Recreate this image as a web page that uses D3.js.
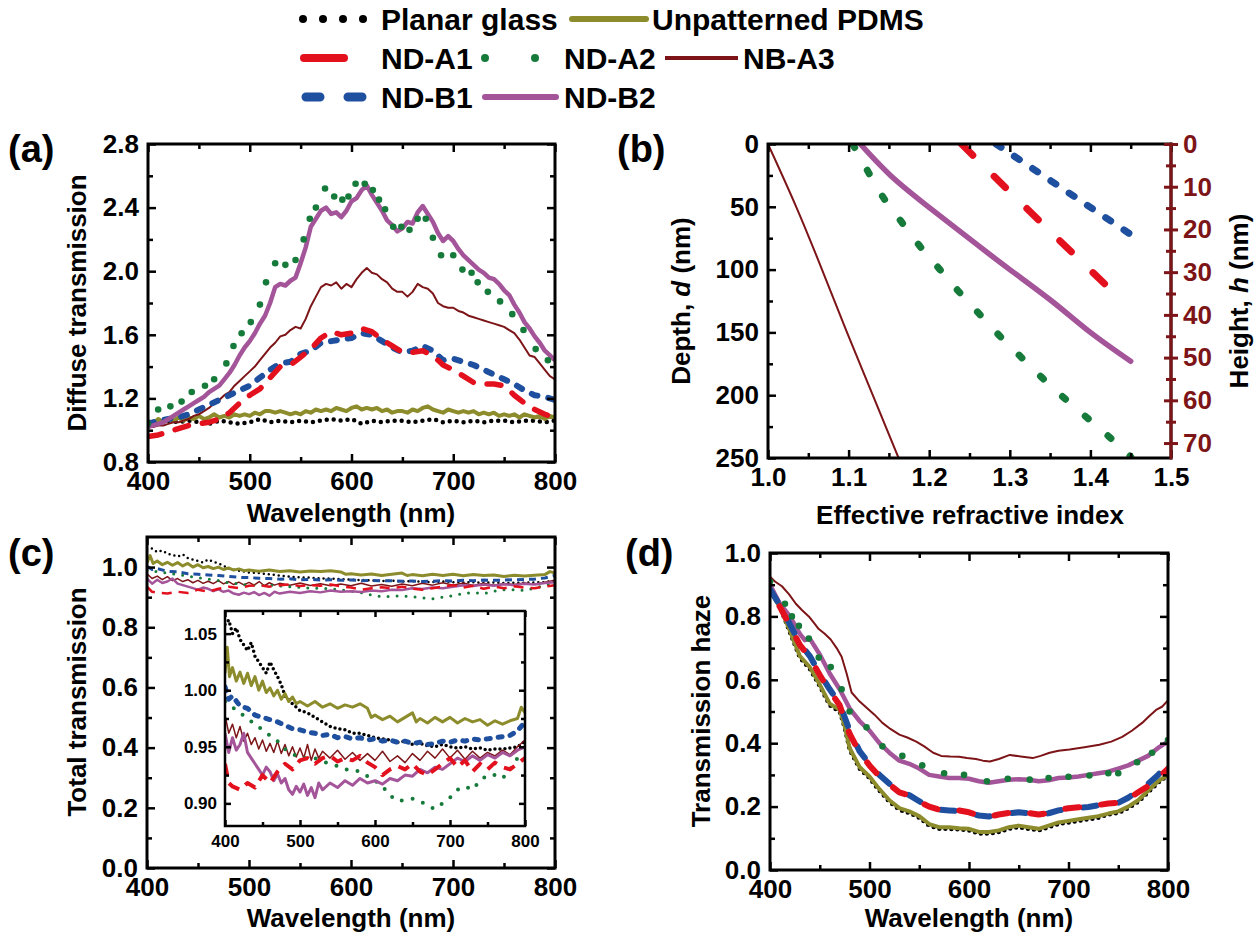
<!DOCTYPE html>
<html>
<head>
<meta charset="utf-8">
<script src="https://cdn.jsdelivr.net/npm/d3@7"></script>
<style>
  body { margin: 0; background: #fff; }
  svg text { font-family: "Liberation Sans", Arial, sans-serif; font-weight: bold; }
</style>
</head>
<body>
<svg id="fig" width="1260" height="934"></svg>
<script>
// ---- data: [x, y] pairs ----

// (a) diffuse transmission vs wavelength
var aPlanar = [[400,1.04],[410,1.05],[420,1.06],[430,1.05],[440,1.06],[450,1.05],[460,1.04],[470,1.06],[480,1.05],[490,1.04],[500,1.05],[510,1.07],[520,1.05],[530,1.06],[540,1.05],[550,1.06],[560,1.05],[570,1.06],[580,1.07],[590,1.06],[600,1.07],[610,1.04],[620,1.06],[630,1.05],[640,1.06],[650,1.06],[660,1.05],[670,1.06],[680,1.07],[690,1.05],[700,1.06],[710,1.05],[720,1.06],[730,1.05],[740,1.06],[750,1.06],[760,1.05],[770,1.06],[780,1.06],[790,1.05],[800,1.06]];
var aPdms = [[400,1.06],[405,1.04],[410,1.07],[415,1.05],[420,1.07],[425,1.06],[430,1.08],[435,1.06],[440,1.08],[445,1.07],[450,1.09],[455,1.07],[460,1.08],[465,1.10],[470,1.08],[475,1.09],[480,1.08],[485,1.10],[490,1.09],[495,1.10],[500,1.09],[505,1.11],[510,1.10],[515,1.12],[520,1.12],[525,1.11],[530,1.12],[535,1.11],[540,1.10],[545,1.11],[550,1.10],[555,1.12],[560,1.11],[565,1.13],[570,1.12],[575,1.13],[580,1.12],[585,1.14],[590,1.13],[595,1.12],[600,1.14],[605,1.15],[610,1.13],[615,1.14],[620,1.13],[625,1.14],[630,1.12],[635,1.13],[640,1.11],[645,1.12],[650,1.12],[655,1.11],[660,1.13],[665,1.12],[670,1.14],[675,1.15],[680,1.13],[685,1.12],[690,1.11],[695,1.13],[700,1.12],[705,1.11],[710,1.12],[715,1.11],[720,1.12],[725,1.10],[730,1.11],[735,1.10],[740,1.11],[745,1.09],[750,1.10],[755,1.09],[760,1.10],[765,1.08],[770,1.10],[775,1.09],[780,1.08],[785,1.09],[790,1.07],[795,1.09],[800,1.08]];
var aA1 = [[400,0.96],[410,0.97],[420,0.99],[430,1.01],[440,1.03],[450,1.04],[460,1.05],[470,1.07],[480,1.11],[490,1.17],[500,1.22],[510,1.26],[520,1.33],[530,1.40],[540,1.41],[550,1.46],[560,1.51],[570,1.58],[580,1.62],[590,1.60],[600,1.61],[610,1.64],[620,1.62],[630,1.57],[640,1.53],[650,1.49],[660,1.49],[670,1.50],[680,1.47],[690,1.41],[700,1.38],[710,1.34],[720,1.30],[730,1.29],[740,1.29],[750,1.28],[760,1.22],[770,1.17],[780,1.13],[790,1.10],[800,1.08]];
var aA2 = [[400,1.04],[410,1.13],[422,1.15],[433,1.18],[443,1.24],[456,1.28],[465,1.32],[477,1.42],[484,1.53],[492,1.61],[501,1.68],[510,1.79],[516,1.93],[525,2.05],[535,2.04],[545,2.07],[553,2.20],[559,2.33],[565,2.40],[574,2.52],[583,2.47],[591,2.45],[597,2.47],[604,2.55],[613,2.55],[621,2.51],[627,2.45],[633,2.39],[641,2.28],[649,2.28],[657,2.26],[665,2.33],[673,2.33],[680,2.21],[688,2.10],[700,2.10],[709,2.01],[718,1.99],[724,1.93],[734,1.87],[746,1.81],[758,1.73],[769,1.63],[781,1.51],[793,1.44]];
var aA3 = [[400,1.02],[405,1.02],[410,1.03],[415,1.03],[420,1.04],[425,1.05],[430,1.05],[435,1.06],[440,1.07],[445,1.09],[450,1.10],[455,1.12],[460,1.14],[465,1.17],[470,1.19],[475,1.22],[480,1.24],[485,1.28],[490,1.31],[495,1.34],[500,1.37],[505,1.40],[510,1.44],[515,1.48],[520,1.52],[525,1.55],[530,1.59],[535,1.60],[540,1.63],[545,1.65],[550,1.64],[555,1.70],[560,1.78],[565,1.84],[570,1.90],[575,1.92],[580,1.91],[585,1.93],[590,1.89],[595,1.92],[600,1.90],[605,1.95],[610,1.99],[615,2.02],[620,1.99],[625,1.98],[630,1.95],[635,1.93],[640,1.89],[645,1.87],[650,1.87],[655,1.84],[660,1.87],[665,1.92],[670,1.90],[675,1.89],[680,1.86],[685,1.80],[690,1.78],[695,1.77],[700,1.77],[705,1.75],[710,1.74],[715,1.72],[720,1.71],[725,1.70],[730,1.69],[735,1.68],[740,1.67],[745,1.66],[750,1.65],[755,1.63],[760,1.61],[765,1.57],[770,1.52],[775,1.47],[780,1.46],[785,1.42],[790,1.38],[795,1.34],[800,1.32]];
var aB1 = [[400,1.04],[410,1.06],[420,1.07],[430,1.08],[440,1.10],[450,1.13],[460,1.16],[470,1.19],[480,1.22],[490,1.25],[500,1.28],[510,1.33],[520,1.38],[530,1.42],[540,1.43],[550,1.48],[560,1.50],[570,1.55],[580,1.56],[590,1.57],[600,1.58],[610,1.61],[620,1.60],[630,1.56],[640,1.52],[650,1.49],[660,1.50],[670,1.53],[680,1.50],[690,1.44],[700,1.45],[710,1.43],[720,1.41],[730,1.38],[740,1.35],[750,1.32],[760,1.29],[770,1.25],[780,1.22],[790,1.21],[800,1.19]];
var aB2 = [[400,1.02],[405,1.03],[410,1.04],[415,1.05],[420,1.07],[425,1.09],[430,1.11],[435,1.13],[440,1.15],[445,1.17],[450,1.19],[455,1.21],[460,1.24],[465,1.26],[470,1.28],[475,1.32],[480,1.36],[485,1.41],[490,1.47],[495,1.52],[500,1.56],[505,1.61],[510,1.67],[515,1.72],[520,1.80],[525,1.90],[530,1.92],[535,1.91],[540,1.94],[545,1.96],[550,2.05],[555,2.15],[560,2.28],[565,2.33],[570,2.38],[575,2.40],[580,2.36],[585,2.37],[590,2.34],[595,2.38],[600,2.44],[605,2.46],[610,2.51],[615,2.54],[620,2.48],[625,2.43],[630,2.38],[635,2.32],[640,2.29],[645,2.25],[650,2.27],[655,2.31],[660,2.30],[665,2.37],[670,2.41],[675,2.36],[680,2.31],[685,2.24],[690,2.19],[695,2.22],[700,2.19],[705,2.14],[710,2.10],[715,2.07],[720,2.04],[725,2.01],[730,1.99],[735,1.96],[740,1.95],[745,1.92],[750,1.88],[755,1.85],[760,1.79],[765,1.74],[770,1.68],[775,1.64],[780,1.59],[785,1.55],[790,1.50],[795,1.47],[800,1.44]];

// (b) depth (nm) vs effective refractive index
var bA1 = [[1.24,0],[1.338,62],[1.44,125]];
var bA2 = [[1.105,0],[1.125,23],[1.144,43.5],[1.165,61.5],[1.188,81],[1.212,99],[1.236,117],[1.261,134.5],[1.287,152.5],[1.313,169],[1.34,186],[1.367,202],[1.395,217.5],[1.423,233],[1.45,249]];
var bA3 = [[1.0,0],[1.035,50],[1.067,100],[1.098,150],[1.130,200],[1.162,250]];
var bB1 = [[1.283,0],[1.45,72]];
var bB2 = [[1.1145,0],[1.152,25],[1.199,50],[1.249,75],[1.30,100],[1.352,125],[1.40,150],[1.45,173]];

// (c) total transmission vs wavelength (main plot and inset share it)
var cPlanar = [[400,1.058],[405,1.062],[410,1.05],[415,1.055],[420,1.045],[425,1.04],[430,1.035],[435,1.042],[440,1.03],[445,1.025],[450,1.02],[455,1.015],[460,1.025],[465,1.018],[470,1.012],[475,1.005],[480,0.995],[490,0.988],[500,0.982],[510,0.98],[520,0.976],[530,0.972],[540,0.968],[550,0.966],[560,0.965],[570,0.962],[580,0.962],[590,0.96],[600,0.958],[610,0.957],[620,0.956],[630,0.954],[640,0.955],[650,0.952],[660,0.953],[670,0.951],[680,0.95],[690,0.952],[700,0.95],[710,0.949],[720,0.95],[730,0.948],[740,0.949],[750,0.947],[760,0.948],[770,0.948],[780,0.949],[790,0.95],[800,0.955]];
var cPdms = [[400,1.015],[403,1.038],[406,1.012],[410,1.02],[415,1.008],[420,1.016],[425,1.006],[430,1.015],[435,1.004],[440,1.012],[445,1.0],[450,1.008],[455,0.998],[460,1.002],[465,0.995],[470,1.0],[475,0.992],[480,0.997],[485,0.99],[490,0.994],[495,0.988],[500,0.99],[510,0.986],[520,0.99],[530,0.985],[540,0.988],[550,0.984],[560,0.987],[570,0.985],[580,0.988],[590,0.984],[595,0.976],[600,0.978],[610,0.974],[620,0.977],[630,0.972],[640,0.976],[650,0.98],[655,0.972],[660,0.975],[670,0.971],[680,0.976],[690,0.972],[700,0.976],[710,0.971],[720,0.975],[730,0.972],[740,0.974],[750,0.969],[760,0.973],[770,0.97],[780,0.973],[790,0.975],[795,0.985],[800,0.98]];
var cA1 = [[400,0.935],[405,0.918],[410,0.915],[420,0.912],[430,0.918],[440,0.914],[450,0.925],[460,0.918],[470,0.928],[480,0.935],[490,0.93],[500,0.938],[510,0.94],[520,0.935],[530,0.94],[540,0.942],[550,0.937],[560,0.94],[570,0.938],[580,0.942],[590,0.936],[600,0.932],[610,0.925],[620,0.93],[630,0.933],[640,0.93],[650,0.935],[660,0.928],[670,0.925],[680,0.93],[690,0.935],[700,0.94],[710,0.932],[720,0.938],[730,0.928],[740,0.935],[750,0.93],[760,0.936],[770,0.932],[780,0.93],[790,0.935],[800,0.94]];
var cA2 = [[400,0.99],[410,0.985],[420,0.98],[430,0.975],[440,0.97],[450,0.965],[460,0.96],[470,0.955],[480,0.948],[490,0.944],[500,0.94],[510,0.94],[520,0.94],[530,0.937],[540,0.935],[550,0.933],[560,0.93],[570,0.93],[580,0.928],[590,0.924],[600,0.92],[610,0.915],[620,0.907],[630,0.902],[640,0.903],[650,0.904],[660,0.902],[670,0.898],[680,0.895],[690,0.90],[700,0.905],[710,0.912],[720,0.915],[730,0.912],[740,0.92],[750,0.925],[760,0.925],[770,0.922],[780,0.93],[790,0.94],[800,0.945]];
var cA3 = [[400,0.978],[405,0.962],[410,0.97],[415,0.958],[420,0.968],[425,0.955],[430,0.962],[435,0.952],[440,0.958],[445,0.948],[450,0.956],[455,0.946],[460,0.953],[465,0.945],[470,0.955],[475,0.944],[480,0.952],[485,0.942],[490,0.95],[495,0.941],[500,0.949],[505,0.94],[510,0.952],[515,0.938],[520,0.948],[525,0.94],[530,0.946],[540,0.94],[550,0.947],[560,0.939],[570,0.945],[580,0.938],[590,0.944],[600,0.938],[610,0.946],[620,0.937],[630,0.942],[640,0.936],[650,0.944],[660,0.938],[670,0.946],[680,0.94],[690,0.948],[700,0.94],[710,0.947],[720,0.939],[730,0.946],[740,0.94],[750,0.945],[760,0.942],[770,0.947],[780,0.943],[790,0.95],[800,0.956]];
var cB1 = [[400,1.003],[405,0.992],[410,0.995],[420,0.986],[430,0.984],[440,0.978],[450,0.976],[460,0.974],[470,0.972],[480,0.969],[490,0.966],[500,0.965],[510,0.963],[520,0.962],[530,0.96],[540,0.961],[550,0.958],[560,0.959],[570,0.957],[580,0.958],[590,0.956],[600,0.957],[610,0.955],[620,0.956],[630,0.954],[640,0.955],[650,0.953],[660,0.954],[670,0.952],[680,0.953],[690,0.955],[700,0.954],[710,0.956],[720,0.955],[730,0.957],[740,0.956],[750,0.957],[760,0.958],[770,0.959],[780,0.96],[790,0.964],[800,0.972]];
var cB2 = [[400,0.962],[405,0.945],[410,0.958],[415,0.947],[420,0.952],[425,0.962],[430,0.945],[435,0.94],[440,0.935],[445,0.93],[450,0.925],[455,0.932],[460,0.928],[465,0.92],[470,0.926],[475,0.918],[480,0.922],[485,0.912],[490,0.908],[495,0.915],[500,0.91],[505,0.917],[510,0.907],[515,0.914],[520,0.905],[525,0.918],[530,0.912],[540,0.918],[550,0.914],[560,0.92],[570,0.916],[580,0.922],[590,0.918],[600,0.92],[610,0.917],[620,0.922],[630,0.92],[640,0.925],[650,0.924],[660,0.93],[670,0.927],[680,0.932],[690,0.93],[700,0.935],[710,0.94],[720,0.937],[730,0.942],[740,0.938],[750,0.943],[760,0.94],[770,0.945],[780,0.942],[790,0.947],[800,0.95]];

// (d) transmission haze vs wavelength
var dPlanar = [[400,0.885],[410,0.83],[420,0.75],[430,0.67],[440,0.635],[450,0.58],[460,0.52],[470,0.50],[475,0.45],[480,0.38],[490,0.32],[500,0.29],[510,0.25],[520,0.215],[530,0.19],[540,0.18],[550,0.165],[560,0.14],[570,0.13],[580,0.13],[590,0.128],[600,0.125],[610,0.115],[620,0.115],[630,0.12],[640,0.13],[650,0.135],[660,0.13],[670,0.125],[680,0.135],[690,0.145],[700,0.15],[710,0.155],[720,0.16],[730,0.165],[740,0.175],[750,0.18],[760,0.195],[770,0.215],[780,0.245],[790,0.275],[800,0.30]];
var dPdms = [[400,0.88],[410,0.83],[420,0.755],[430,0.675],[440,0.64],[450,0.585],[460,0.525],[470,0.505],[475,0.455],[480,0.385],[490,0.325],[500,0.295],[510,0.255],[520,0.22],[530,0.195],[540,0.185],[550,0.17],[560,0.145],[570,0.135],[580,0.135],[590,0.132],[600,0.13],[610,0.12],[620,0.12],[630,0.125],[640,0.135],[650,0.14],[660,0.135],[670,0.13],[680,0.14],[690,0.15],[700,0.155],[710,0.16],[720,0.165],[730,0.17],[740,0.178],[750,0.185],[760,0.2],[770,0.22],[780,0.25],[790,0.28],[800,0.30]];
var dA1 = [[400,0.88],[410,0.83],[420,0.77],[430,0.71],[440,0.67],[450,0.615],[460,0.565],[470,0.52],[480,0.43],[490,0.37],[500,0.33],[510,0.295],[520,0.27],[530,0.245],[540,0.235],[550,0.215],[560,0.20],[570,0.19],[580,0.19],[590,0.188],[600,0.182],[610,0.172],[620,0.168],[630,0.175],[640,0.18],[650,0.183],[660,0.18],[670,0.175],[680,0.18],[690,0.19],[700,0.195],[710,0.198],[720,0.20],[730,0.205],[740,0.21],[750,0.212],[760,0.225],[770,0.245],[780,0.265],[790,0.29],[800,0.32]];
var dA2 = [[400,0.91],[415,0.84],[422,0.80],[429,0.77],[439,0.73],[449,0.67],[461,0.64],[472,0.57],[480,0.50],[497,0.45],[513,0.39],[533,0.36],[553,0.33],[575,0.305],[595,0.30],[618,0.28],[639,0.288],[661,0.285],[680,0.29],[700,0.294],[721,0.298],[740,0.305],[750,0.305],[769,0.34],[784,0.37],[800,0.41]];
var dA3 = [[400,0.925],[405,0.91],[412,0.895],[419,0.87],[426,0.84],[432,0.82],[439,0.80],[444,0.78],[449,0.76],[455,0.745],[461,0.727],[467,0.70],[472,0.673],[477,0.62],[482,0.56],[489,0.535],[496,0.515],[505,0.49],[513,0.464],[521,0.445],[530,0.427],[538,0.418],[547,0.405],[555,0.39],[564,0.37],[572,0.36],[581,0.358],[590,0.357],[598,0.353],[607,0.35],[614,0.345],[621,0.342],[630,0.35],[641,0.363],[652,0.358],[664,0.353],[672,0.36],[681,0.37],[690,0.376],[701,0.38],[716,0.387],[731,0.395],[743,0.405],[754,0.42],[764,0.44],[774,0.464],[781,0.485],[788,0.505],[794,0.515],[800,0.535]];
var dB1 = [[400,0.885],[410,0.835],[420,0.775],[430,0.715],[440,0.675],[450,0.62],[460,0.57],[470,0.525],[480,0.44],[490,0.375],[500,0.335],[510,0.30],[520,0.272],[530,0.248],[540,0.236],[550,0.217],[560,0.20],[570,0.19],[580,0.188],[590,0.186],[600,0.18],[610,0.172],[620,0.169],[630,0.174],[640,0.179],[650,0.182],[660,0.179],[670,0.175],[680,0.179],[690,0.188],[700,0.193],[710,0.196],[720,0.199],[730,0.204],[740,0.208],[750,0.212],[760,0.228],[770,0.25],[780,0.272],[790,0.30],[800,0.335]];
var dB2 = [[400,0.90],[410,0.84],[420,0.80],[430,0.745],[435,0.725],[440,0.73],[450,0.68],[460,0.62],[470,0.57],[480,0.51],[490,0.47],[500,0.44],[510,0.40],[520,0.37],[530,0.345],[540,0.335],[550,0.32],[560,0.30],[570,0.295],[580,0.29],[590,0.29],[600,0.288],[610,0.28],[620,0.275],[630,0.28],[640,0.285],[650,0.286],[660,0.285],[670,0.28],[680,0.283],[690,0.29],[700,0.292],[710,0.295],[720,0.30],[730,0.305],[740,0.31],[750,0.32],[760,0.33],[770,0.345],[780,0.36],[790,0.385],[800,0.405]];

// tick values
var waveMajor = [400, 500, 600, 700, 800];
var waveMinor = [450, 550, 650, 750];
var aMajor = [0.8, 1.2, 1.6, 2.0, 2.4, 2.8];
var aMinor = [1.0, 1.4, 1.8, 2.2, 2.6];
var nMajor = [1.0, 1.1, 1.2, 1.3, 1.4, 1.5];
var nMinor = [1.05, 1.15, 1.25, 1.35, 1.45];
var depthMajor = [0, 50, 100, 150, 200, 250];
var depthMinor = [25, 75, 125, 175, 225];
var heightMajor = [0, 10, 20, 30, 40, 50, 60, 70];
var heightMinor = [5, 15, 25, 35, 45, 55, 65];
var cMajor = [0.0, 0.2, 0.4, 0.6, 0.8, 1.0];
var cMinor = [0.1, 0.3, 0.5, 0.7, 0.9];
var insetMajor = [0.90, 0.95, 1.00, 1.05];
var insetMinor = [0.925, 0.975, 1.025];
var dMajor = [0.0, 0.2, 0.4, 0.6, 0.8, 1.0];
var dMinor = [0.1, 0.3, 0.5, 0.7, 0.9];

var colors = {
  planar: '#000000', pdms: '#8c8c2c', a1: '#e3101d', a2: '#167a3a',
  a3: '#7d1518', b1: '#1f4f9f', b2: '#a4559a'
};

var svg = d3.select('#fig');
var clipCount = 0;

function makePanel(o) {
  var g = svg.append('g').attr('transform', 'translate(' + o.left + ',' + o.top + ')');
  var x = d3.scaleLinear().domain(o.xDomain).range([0, o.width]);
  var y = d3.scaleLinear().domain(o.yDomain).range(o.yDown ? [0, o.height] : [o.height, 0]);
  g.append('rect').attr('width', o.width).attr('height', o.height).attr('fill', '#fff');
  var id = 'clip' + (clipCount++);
  g.append('clipPath').attr('id', id).append('rect').attr('width', o.width).attr('height', o.height);
  var plot = g.append('g').attr('clip-path', 'url(#' + id + ')');
  return {g: g, x: x, y: y, plot: plot, o: o};
}

function addAxis(g, axisFn, scale, vals, size, fmt, shift, fs, pad, color) {
  var ax = axisFn(scale).tickValues(vals).tickSize(-size).tickPadding(pad)
    .tickFormat(fmt || function() { return ''; });
  var a = g.append('g').attr('transform', shift).call(ax);
  a.select('.domain').remove();
  a.attr('font-size', fs).attr('font-family', null).attr('fill', color);
  a.selectAll('line').attr('stroke', color).attr('stroke-width', 2.5);
  a.selectAll('text').attr('fill', color);
  return a;
}

function drawAxes(p, t) {
  var o = p.o, g = p.g, w = o.width, h = o.height;
  var fs = t.fs, pad = t.pad, big = t.big, small = t.small;
  addAxis(g, d3.axisBottom, p.x, t.xMajor, big, t.fx, 'translate(0,' + h + ')', fs, pad + 1, '#000');
  addAxis(g, d3.axisBottom, p.x, t.xMinor, small, null, 'translate(0,' + h + ')', fs, pad, '#000');
  addAxis(g, d3.axisTop, p.x, t.xMajor, big, null, 'translate(0,0)', fs, pad, '#000');
  addAxis(g, d3.axisTop, p.x, t.xMinor, small, null, 'translate(0,0)', fs, pad, '#000');
  addAxis(g, d3.axisLeft, p.y, t.yMajor, big, t.fy, 'translate(0,0)', fs, pad, '#000');
  addAxis(g, d3.axisLeft, p.y, t.yMinor, small, null, 'translate(0,0)', fs, pad, '#000');
  if (!t.noRight) {
    addAxis(g, d3.axisRight, p.y, t.yMajor, big, null, 'translate(' + w + ',0)', fs, pad, '#000');
    addAxis(g, d3.axisRight, p.y, t.yMinor, small, null, 'translate(' + w + ',0)', fs, pad, '#000');
  }
  g.append('rect').attr('width', w).attr('height', h)
    .attr('fill', 'none').attr('stroke', '#000').attr('stroke-width', t.frame);
}

function drawLine(p, data, st, curve) {
  var line = d3.line().x(function(d) { return p.x(d[0]); }).y(function(d) { return p.y(d[1]); })
    .curve(curve || d3.curveLinear);
  p.plot.append('path').datum(data)
    .attr('d', line)
    .attr('fill', 'none')
    .attr('stroke', st.c)
    .attr('stroke-width', st.w)
    .attr('stroke-dasharray', st.dash || null)
    .attr('stroke-dashoffset', st.off || null)
    .attr('stroke-linecap', st.cap || 'butt')
    .attr('stroke-linejoin', 'round');
}

function drawDots(p, data, color, r) {
  p.plot.selectAll(null).data(data).enter().append('circle')
    .attr('cx', function(d) { return p.x(d[0]); })
    .attr('cy', function(d) { return p.y(d[1]); })
    .attr('r', r).attr('fill', color);
}

function text(str, x, y, fs, anchor, rotate, color) {
  var t = svg.append('text').attr('x', x).attr('y', y).attr('font-size', fs)
    .attr('text-anchor', anchor || 'middle').attr('fill', color || '#000').text(str);
  if (rotate) t.attr('transform', 'rotate(-90,' + x + ',' + y + ')');
  return t;
}

function richText(parts, x, y, fs, rotate) {
  var t = text('', x, y, fs, 'middle', rotate);
  parts.forEach(function(pt) {
    t.append('tspan').text(pt[0]).attr('font-style', pt[1] ? 'italic' : null);
  });
}

var f1 = d3.format('.1f'), f2 = d3.format('.2f'), f0 = d3.format('d');
var tickFs = 26;

// ---- (a) ----
var pa = makePanel({left: 148, top: 144, width: 407, height: 318, xDomain: [400, 800], yDomain: [0.8, 2.8]});
drawLine(pa, aPlanar, {c: colors.planar, w: 4.5, dash: '0,7', cap: 'round'});
drawLine(pa, aPdms, {c: colors.pdms, w: 4});
drawLine(pa, aA3, {c: colors.a3, w: 2});
drawLine(pa, aB1, {c: colors.b1, w: 6, dash: '6,11', cap: 'round'});
drawLine(pa, aA1, {c: colors.a1, w: 5.5, dash: '14,14', cap: 'round'});
drawLine(pa, aB2, {c: colors.b2, w: 4.5});
drawDots(pa, aA2, colors.a2, 3.3);
drawAxes(pa, {xMajor: waveMajor, xMinor: waveMinor, yMajor: aMajor, yMinor: aMinor,
  fx: f0, fy: f1, fs: tickFs, pad: 9, big: 8, small: 5, frame: 3});

// ---- (b) ----
var pb = makePanel({left: 768, top: 144, width: 403, height: 314, xDomain: [1.0, 1.5], yDomain: [0, 250], yDown: true});
drawLine(pb, bA3, {c: colors.a3, w: 2}, d3.curveNatural);
drawLine(pb, bA2, {c: colors.a2, w: 7, dash: '4,26', cap: 'round'}, d3.curveNatural);
drawLine(pb, bB2, {c: colors.b2, w: 5.5, cap: 'round'}, d3.curveNatural);
drawLine(pb, bA1, {c: colors.a1, w: 7, dash: '16,30', cap: 'round'}, d3.curveNatural);
drawLine(pb, bB1, {c: colors.b1, w: 7, dash: '6,16', cap: 'round'}, d3.curveNatural);
drawAxes(pb, {xMajor: nMajor, xMinor: nMinor, yMajor: depthMajor, yMinor: depthMinor,
  fx: f1, fy: f0, fs: tickFs, pad: 9, big: 8, small: 5, frame: 3, noRight: true});
var hScale = d3.scaleLinear().domain([0, 73.5]).range([0, 314]);
addAxis(pb.g, d3.axisRight, hScale, heightMajor, 7, f0, 'translate(403,0)', tickFs, 12, colors.a3)
  .selectAll('line').attr('x1', -7).attr('x2', 7).attr('stroke-width', 3);
addAxis(pb.g, d3.axisRight, hScale, heightMinor, 5, null, 'translate(403,0)', tickFs, 12, colors.a3)
  .selectAll('line').attr('x1', -5).attr('x2', 5).attr('stroke-width', 3);
pb.g.append('line').attr('x1', 403).attr('x2', 403).attr('y1', -1.5).attr('y2', 315.5)
  .attr('stroke', colors.a3).attr('stroke-width', 3);

// ---- (c) ----
var pc = makePanel({left: 147, top: 537, width: 408, height: 331, xDomain: [400, 800], yDomain: [0, 1.1]});
drawLine(pc, cPlanar, {c: colors.planar, w: 2.5, dash: '0,5', cap: 'round'});
drawLine(pc, cPdms, {c: colors.pdms, w: 3});
drawLine(pc, cA3, {c: colors.a3, w: 1.5});
drawLine(pc, cB1, {c: colors.b1, w: 3, dash: '7,5'});
drawLine(pc, cA2, {c: colors.a2, w: 3, dash: '0,9', cap: 'round'});
drawLine(pc, cB2, {c: colors.b2, w: 2.5});
drawLine(pc, cA1, {c: colors.a1, w: 2.5, dash: '10,7'});
drawAxes(pc, {xMajor: waveMajor, xMinor: waveMinor, yMajor: cMajor, yMinor: cMinor,
  fx: f0, fy: f1, fs: tickFs, pad: 9, big: 8, small: 5, frame: 3});

// inset of (c)
var pi = makePanel({left: 225, top: 611, width: 300, height: 215, xDomain: [400, 800], yDomain: [0.88, 1.07]});
drawLine(pi, cPlanar, {c: colors.planar, w: 3.5, dash: '0,5', cap: 'round'});
drawLine(pi, cPdms, {c: colors.pdms, w: 3});
drawLine(pi, cB1, {c: colors.b1, w: 5, dash: '4,8', cap: 'round'});
drawLine(pi, cA3, {c: colors.a3, w: 1.5});
drawLine(pi, cA2, {c: colors.a2, w: 4, dash: '0,11', cap: 'round'});
drawLine(pi, cB2, {c: colors.b2, w: 3});
drawLine(pi, cA1, {c: colors.a1, w: 4, dash: '12,8'});
drawAxes(pi, {xMajor: waveMajor, xMinor: waveMinor, yMajor: insetMajor, yMinor: insetMinor,
  fx: f0, fy: f2, fs: 17, pad: 8, big: 6, small: 4, frame: 2.5});

// ---- (d) ----
var pd = makePanel({left: 770, top: 553, width: 398, height: 317, xDomain: [400, 800], yDomain: [0, 1.0]});
drawLine(pd, dA3, {c: colors.a3, w: 2});
drawLine(pd, dB2, {c: colors.b2, w: 4.5});
drawDots(pd, dA2, colors.a2, 3.3);
drawLine(pd, dPlanar, {c: colors.planar, w: 4.5, dash: '0,6', cap: 'round'});
drawLine(pd, dPdms, {c: colors.pdms, w: 4});
drawLine(pd, dB1, {c: colors.b1, w: 6, dash: '14,22', cap: 'round'});
drawLine(pd, dA1, {c: colors.a1, w: 6, dash: '14,22', off: -18, cap: 'round'});
drawAxes(pd, {xMajor: waveMajor, xMinor: waveMinor, yMajor: dMajor, yMinor: dMinor,
  fx: f0, fy: f1, fs: tickFs, pad: 9, big: 8, small: 5, frame: 3});

// ---- axis titles and panel letters ----
text('Diffuse transmission', 86, 303, 26, 'middle', true);
text('Wavelength (nm)', 351, 522, 26);
text('Effective refractive index', 970, 524, 26);
richText([['Depth, ', false], ['d', true], [' (nm)', false]], 690, 301, 26, true);
richText([['Height, ', false], ['h', true], [' (nm)', false]], 1248, 301, 26, true);
text('Total transmission', 86, 702, 26, 'middle', true);
text('Wavelength (nm)', 351, 927, 26);
text('Transmission haze', 710, 711, 26, 'middle', true);
text('Wavelength (nm)', 969, 927, 26);
text('(a)', 8, 162, 38, 'start');
text('(b)', 617, 162, 38, 'start');
text('(c)', 8, 566, 38, 'start');
text('(d)', 625, 566, 38, 'start');

// ---- legend ----
var leg = svg.append('g');
function legLine(x1, x2, y, st) {
  leg.append('line').attr('x1', x1).attr('x2', x2).attr('y1', y).attr('y2', y)
    .attr('stroke', st.c).attr('stroke-width', st.w)
    .attr('stroke-dasharray', st.dash || null).attr('stroke-linecap', st.cap || 'butt');
}
function legDot(cx, cy, r, c) {
  leg.append('circle').attr('cx', cx).attr('cy', cy).attr('r', r).attr('fill', c);
}
var legFs = 30;
var rows = [19, 58, 97];
[303, 323, 343, 363].forEach(function(cx) { legDot(cx, rows[0], 4, colors.planar); });
text('Planar glass', 381, rows[0] + 11, legFs, 'start');
legLine(572, 646, rows[0], {c: colors.pdms, w: 6, cap: 'round'});
text('Unpatterned PDMS', 652, rows[0] + 11, legFs, 'start');
legLine(304, 344, rows[1], {c: colors.a1, w: 8, cap: 'round'});
text('ND-A1', 381, rows[1] + 11, legFs, 'start');
legDot(485, rows[1], 4, colors.a2);
legDot(535, rows[1], 4, colors.a2);
text('ND-A2', 564, rows[1] + 11, legFs, 'start');
legLine(665, 738, rows[1], {c: colors.a3, w: 4});
text('NB-A3', 743, rows[1] + 11, legFs, 'start');
legLine(306, 364, rows[2], {c: colors.b1, w: 9, dash: '14,28', cap: 'round'});
text('ND-B1', 381, rows[2] + 11, legFs, 'start');
legLine(485, 556, rows[2], {c: colors.b2, w: 6, cap: 'round'});
text('ND-B2', 564, rows[2] + 11, legFs, 'start');
</script>
</body>
</html>
